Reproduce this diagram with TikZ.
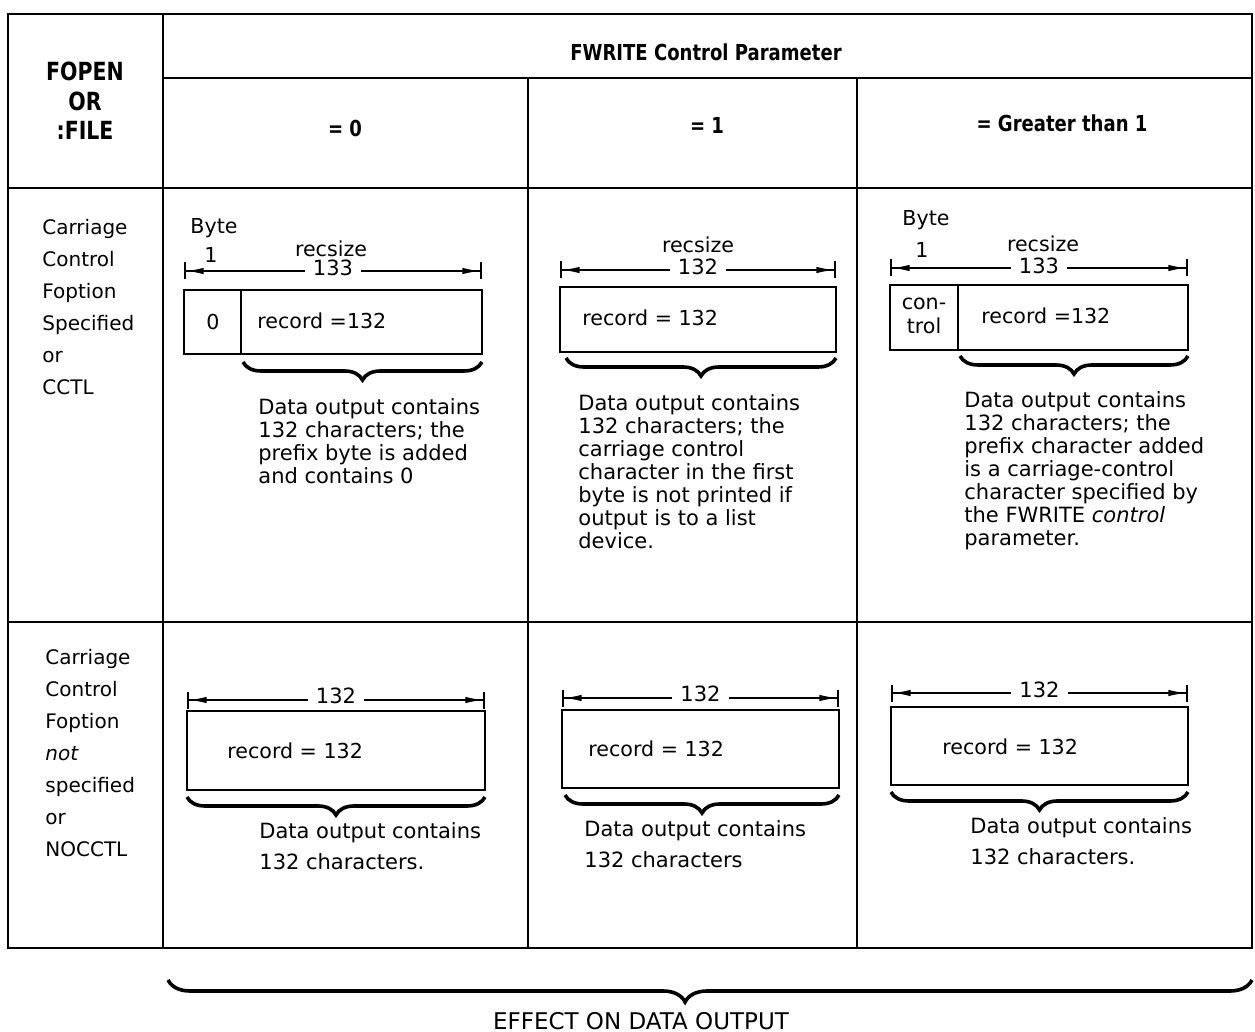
\documentclass[tikz,border=0pt]{standalone}
\usepackage{fontspec}
\setmainfont{DejaVu Sans}
\newfontfamily\hdfont[FakeStretch=0.82]{DejaVu Sans}
\usetikzlibrary{arrows.meta,decorations.pathreplacing,calc}

\begin{document}
\begin{tikzpicture}[x=0.5pt,y=-0.5pt,
  tbl/.style={line width=1.3pt},
  box/.style={line width=1pt},
  dim/.style={line width=0.8pt,{Bar[width=8.5pt]Latex[length=9pt,width=3.2pt]}-{Latex[length=9pt,width=3.2pt]Bar[width=8.5pt]}},
  brc/.style={decorate,decoration={brace,mirror,amplitude=9pt},line width=1.8pt},
  hd/.style={font=\hdfont\bfseries\fontsize{11}{14.75}\selectfont,align=center,inner sep=0pt},
  txt/.style={font=\fontsize{10.5}{11.5}\selectfont,align=left,inner sep=0pt,anchor=north west},
  txtb/.style={font=\fontsize{10.5}{15.5}\selectfont,align=left,inner sep=0pt,anchor=north west},
  side/.style={font=\fontsize{10}{16}\selectfont,align=left,inner sep=0pt,anchor=north west},
  lbl/.style={font=\fontsize{10.3}{12}\selectfont,inner sep=0pt,align=center},
  num/.style={font=\fontsize{10.5}{12}\selectfont,fill=white,inner xsep=4pt,inner ysep=0pt}]
\useasboundingbox (0,0) rectangle (1255,1032);

% table
\draw [tbl] (8,14) rectangle (1252,948);
\draw [tbl] (163,14) -- (163,948);
\foreach \x in {528,857}
  \draw [tbl] (\x,78) -- (\x,948);
\draw [tbl] (163,78) -- (1252,78);
\foreach \y in {188,622}
  \draw [tbl] (8,\y) -- (1252,\y);

% headings
\node [hd, font=\hdfont\bfseries\fontsize{12.5}{14.75}\selectfont] (fopen) at (85,101) {FOPEN\\OR\\:FILE};
\node [hd] (fwrite) at (706,52) {FWRITE Control Parameter};
\node [hd] (eqa) at (345,128) {= 0};
\node [hd] (eqb) at (707,125) {= 1};
\node [hd] (eqc) at (1062,123) {= Greater than 1};

\node [side] (cctl) at (42,219) {Carriage\\Control\\Foption\\Specified\\or\\CCTL};
\node [side] (nocctl) at (45,649) {Carriage\\Control\\Foption\\\textit{not}\\specified\\or\\NOCCTL};

% record boxes
\draw [box] (184,290) rectangle (482,354);
\draw [box] (241,290) -- (241,354);
\draw [box] (560,287) rectangle (836,352);
\draw [box] (890,285) rectangle (1188,350);
\draw [box] (958,285) -- (958,350);
\draw [box] (187,711) rectangle (485,790);
\draw [box] (562,710) rectangle (839,788);
\draw [box] (891,707) rectangle (1188,785);

\node [lbl] (zero) at (213,322) {0};
\node [lbl] (ctl) at (924,316) {con-\\trol};
\node [lbl, anchor=west] (reca) at (257,321) {record =132};
\node [lbl, anchor=west] (recb) at (582,318) {record = 132};
\node [lbl, anchor=west] (recc) at (981,316) {record =132};
\node [lbl, anchor=west] (recd) at (227,751) {record = 132};
\node [lbl, anchor=west] (rece) at (588,749) {record = 132};
\node [lbl, anchor=west] (recf) at (942,747) {record = 132};

% byte and recsize labels
\node [lbl] (bytea) at (214,228) {Byte};
\node [lbl] (onea) at (211,255) {1};
\node [lbl] (byteb) at (926,220) {Byte};
\node [lbl] (oneb) at (922,250) {1};
\node [lbl] (rsa) at (331,249) {recsize};
\node [lbl] (rsb) at (698,245) {recsize};
\node [lbl] (rsc) at (1043,244) {recsize};

% dimension lines
\foreach \n/\xa/\xb/\y/\t/\ty in {a/184/482/271/133/268, b/560/836/270/132/267, c/890/1188/268/133/266,
    d/187/485/700/132/696, e/562/839/698/132/694, f/891/1188/693/132/690}
{
  \coordinate (dl\n) at (\xa,\y);
  \coordinate (dr\n) at (\xb,\y);
  \draw [dim] (dl\n) -- (dr\n);
  \node [num] (dn\n) at ($(\xa,\ty)!0.5!(\xb,\ty)$) {\t};
}

% braces
\foreach \n/\xa/\xb/\y in {a/243/482/362, b/566/836/358, c/960/1188/356,
    d/187/485/797, e/565/839/795, f/891/1188/792}
{
  \coordinate (bl\n) at (\xa,\y);
  \coordinate (br\n) at (\xb,\y);
  \draw [brc] (bl\n) -- (br\n);
}
\coordinate (effl) at (168,980);
\coordinate (effr) at (1252,980);
\draw [brc, decoration={aspect=0.477,amplitude=11pt}] (effl) -- (effr);

% texts
\node [txt] (ta) at (258,398) {Data output contains\\132 characters; the\\prefix byte is added\\and contains 0};
\node [txt] (tb) at (578,394) {Data output contains\\132 characters; the\\carriage control\\character in the first\\byte is not printed if\\output is to a list\\device.};
\node [txt] (tc) at (964,391) {Data output contains\\132 characters; the\\prefix character added\\is a carriage-control\\character specified by\\the FWRITE \textit{control}\\parameter.};
\node [txtb] (td) at (259,822) {Data output contains\\132 characters.};
\node [txtb] (te) at (584,820) {Data output contains\\132 characters};
\node [txtb] (tf) at (970,817) {Data output contains\\132 characters.};

\node [font=\fontsize{11.5}{14}\selectfont, inner sep=0pt] (effect) at (641,1021) {EFFECT ON DATA OUTPUT};
\end{tikzpicture}
\end{document}
